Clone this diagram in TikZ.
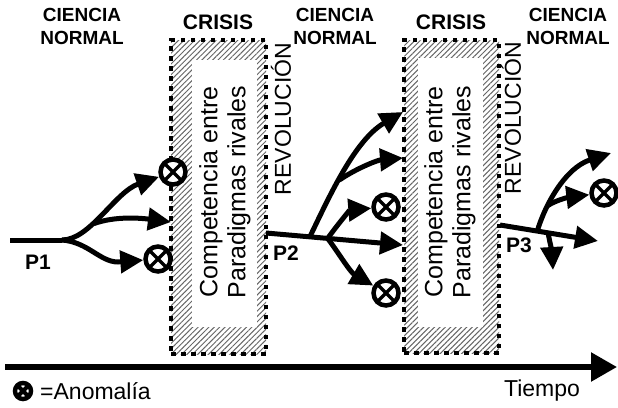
\documentclass[tikz,border=0pt]{standalone}
\usepackage{fontspec}
\setmainfont{Liberation Sans}
\usetikzlibrary{arrows.meta,patterns.meta}
\begin{document}
\begin{tikzpicture}[x=1pt,y=-1pt,
  branch/.style={line width=5pt, -{Triangle[length=23pt,width=22pt]}},
  plainline/.style={line width=5pt},
  xmark/.style={path picture={\draw[line width=#1]
     ([shift={(-13pt,-13pt)}]path picture bounding box.center) -- ([shift={(13pt,13pt)}]path picture bounding box.center)
     ([shift={(-13pt,13pt)}]path picture bounding box.center) -- ([shift={(13pt,-13pt)}]path picture bounding box.center);}},
  anom/.style={circle, draw, line width=4.5pt, minimum size=25pt, inner sep=0pt, fill=white, xmark=3.5pt},
  anomsmall/.style={circle, draw, line width=4.5pt, minimum size=16pt, inner sep=0pt, fill=white, xmark=4pt},
  crisisbox/.style={draw, line width=4.5pt, dash pattern=on 4.5pt off 5.5pt,
     pattern={Lines[angle=45,distance=3.8pt,line width=1pt]}, pattern color=black!60, inner sep=0pt},
  innerbox/.style={fill=white, inner sep=0pt},
  header/.style={font=\bfseries\fontsize{19}{23}\selectfont, align=center, inner sep=0pt},
  crisislbl/.style={font=\bfseries\fontsize{21}{24}\selectfont, inner sep=0pt},
  revlbl/.style={font=\fontsize{23}{26}\selectfont, rotate=90, inner sep=0pt},
  complbl/.style={font=\fontsize{25}{28}\selectfont, rotate=90, align=center, inner sep=0pt},
  plbl/.style={font=\bfseries\fontsize{21}{22}\selectfont, inner sep=0pt},
  legend/.style={font=\fontsize{23}{26}\selectfont, inner sep=0pt}
]
\useasboundingbox (0,0) rectangle (618,407);

% crisis boxes
\node[crisisbox, minimum width=95pt, minimum height=314pt] (c1) at (218.5,197) {};
\node[innerbox, minimum width=65pt, minimum height=267pt] (i1) at (224.5,193.5) {};
\node[crisisbox, minimum width=95pt, minimum height=313pt] (c2) at (451.5,196.5) {};
\node[innerbox, minimum width=65pt, minimum height=269pt] (i2) at (450.5,192.5) {};
\node[complbl] (t1) at (225,192) {Competencia entre\\Paradigmas rivales};
\node[complbl] (t2) at (450,192) {Competencia entre\\Paradigmas rivales};
\node[revlbl] (r1) at (281,119) {REVOLUCIÓN};
\node[revlbl] (r2) at (511,118) {REVOLUCIÓN};

% headers
\node[header] (h1) at (82,26.5) {CIENCIA\\NORMAL};
\node[header] (h2) at (335,26.5) {CIENCIA\\NORMAL};
\node[header] (h3) at (568,26.5) {CIENCIA\\NORMAL};
\node[crisislbl] (k1) at (218,22.5) {CRISIS};
\node[crisislbl] (k2) at (451,22.5) {CRISIS};

% P1
\coordinate (p1s) at (10,240);
\coordinate (b1) at (62,240);
\coordinate (t1m) at (171,222);
\node[anom] (a1) at (173,172) {};
\node[anom] (a2) at (158,259) {};
\draw[plainline] (p1s) -- (b1);
\draw[branch] (b1) .. controls (90,240) and (115,192) .. coordinate[pos=0.38] (m1) (a1);
\draw[branch] (m1) .. controls (115,216) and (140,218) .. (t1m);
\draw[branch] (b1) .. controls (88,242) and (100,262) .. (118,262) -- (a2);
\node[plbl] (l1) at (38,262) {P1};

% P2
\coordinate (p2s) at (266,233);
\coordinate (t2m) at (403,245);
\coordinate (t2a) at (403,112);
\coordinate (t2b) at (403,158);
\node[anom] (a3) at (386,207) {};
\node[anom] (a4) at (386,293) {};
\draw[branch] (p2s) -- coordinate[pos=0.32] (b2) coordinate[pos=0.45] (b3) (t2m);
\draw[branch] (b2) .. controls (330,195) and (355,140) .. coordinate[pos=0.42] (m2) (t2a);
\draw[branch] (m2) .. controls (357,168) and (378,160) .. (t2b);
\draw[branch] (b3) .. controls (338,224) and (350,210) .. (a3);
\draw[branch] (b3) .. controls (338,252) and (350,272) .. (a4);
\node[plbl] (l2) at (286,253) {P2};

% P3
\coordinate (p3s) at (500,225);
\coordinate (t3m) at (598,241);
\coordinate (t3a) at (611,153);
\coordinate (t3d) at (553,270);
\node[anom] (a5) at (604,193) {};
\draw[branch] (p3s) -- coordinate[pos=0.38] (b4) coordinate[pos=0.49] (b5) (t3m);
\draw[branch] (b4) .. controls (545,205) and (565,168) .. coordinate[pos=0.3] (m3) (t3a);
\draw[branch] (m3) .. controls (556,200) and (570,197) .. (a5);
\draw[branch] (b5) .. controls (550,243) and (552,252) .. (t3d);
\node[plbl] (l3) at (519,245) {P3};

% time axis
\coordinate (tl0) at (5,367);
\coordinate (tl1) at (617,367);
\draw[line width=5.5pt, -{Triangle[length=26pt,width=28pt]}] (tl0) -- (tl1);
\node[legend, anchor=base] (tt) at (542,396) {Tiempo};

% legend
\node[anomsmall] (lg) at (23,391) {};
\node[legend, anchor=base west] (lgt) at (40,399) {=Anomalía};
\end{tikzpicture}
\end{document}
